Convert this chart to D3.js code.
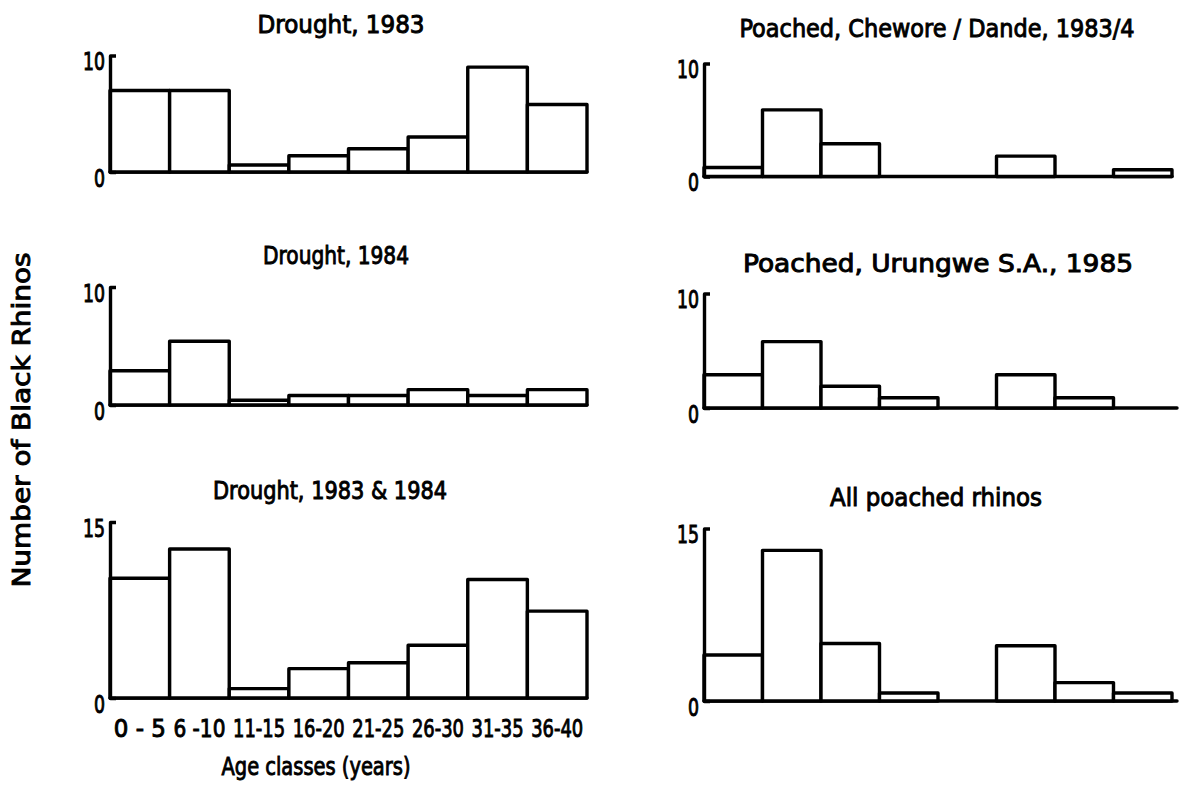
<!doctype html>
<html>
<head>
<meta charset="utf-8" />
<title>Black rhino age classes</title>
<script src="https://cdn.jsdelivr.net/npm/d3@7/dist/d3.min.js"></script>
<style>
	body { margin: 0; background: #fff; }
	svg { display: block; }
	text { font-family: "DejaVu Sans Condensed", "Liberation Sans Narrow", sans-serif; fill: #000; stroke: #000; stroke-width: 0.9; }
	.bar { fill: #fff; stroke: #000; stroke-width: 3.4; stroke-linejoin: round; }
	.base { stroke: #000; stroke-width: 3.4; stroke-linecap: round; }
	.axis path { stroke: #000; stroke-width: 3.4; fill: none; stroke-linejoin: round; }
	.axis line { display: none; }
</style>
</head>
<body>
<div id="app"></div>
<script>
// age classes on the x axis
const ageClasses = ['0 - 5', '6 -10', '11-15', '16-20', '21-25', '26-30', '31-35', '36-40'];

// number of black rhinos per age class
const drought1983 = [7, 7, 0.6, 1.4, 2, 3, 9, 5.8];
const drought1984 = [2.9, 5.4, 0.4, 0.8, 0.8, 1.3, 0.8, 1.3];
const drought1983and1984 = [10.2, 12.7, 0.8, 2.5, 3, 4.5, 10.1, 7.4];
const poachedChewore = [0.8, 5.9, 2.9, 0, 0, 1.8, 0, 0.6];
const poachedUrungwe = [2.9, 5.8, 1.9, 0.9, 0, 2.9, 0.9, 0];
const poachedAll = [4, 13.1, 5, 0.7, 0, 4.8, 1.6, 0.7];

const titles = ['Drought, 1983', 'Drought, 1984', 'Drought, 1983 & 1984',
	'Poached, Chewore / Dande, 1983/4', 'Poached, Urungwe S.A., 1985', 'All poached rhinos'];
const yMax = [10, 10, 15, 10, 10, 15];

const W = 1179, H = 795;
const svg = d3.select('#app').append('svg').attr('width', W).attr('height', H);

// panel frames: left column then right column
const panels = [
	{ values: drought1983, x0: 110, x1: 587, top: 55.5, zero: 172, tx: 341, ty: 33, tw: 167, baseEnd: 587 },
	{ values: drought1984, x0: 110, x1: 587, top: 287, zero: 405, tx: 336, ty: 264, tw: 146, baseEnd: 587 },
	{ values: drought1983and1984, x0: 110, x1: 587, top: 522, zero: 698, tx: 330, ty: 499, tw: 234, baseEnd: 587 },
	{ values: poachedChewore, x0: 704, x1: 1172, top: 63.5, zero: 176.5, tx: 937, ty: 37, tw: 395, baseEnd: 1172 },
	{ values: poachedUrungwe, x0: 704, x1: 1172, top: 293.5, zero: 408, tx: 938, ty: 272, tw: 390, baseEnd: 1177 },
	{ values: poachedAll, x0: 704, x1: 1172, top: 528.5, zero: 701, tx: 936, ty: 506, tw: 212, baseEnd: 1177 }
];

panels.forEach((p, i) => {
	const g = svg.append('g');
	const x = d3.scaleBand().domain(ageClasses).range([p.x0, p.x1]).padding(0);
	const y = d3.scaleLinear().domain([0, yMax[i]]).range([p.zero, p.top]);

	g.append('text')
		.attr('x', p.tx).attr('y', p.ty)
		.attr('text-anchor', 'middle')
		.attr('font-size', 25)
		.attr('textLength', p.tw).attr('lengthAdjust', 'spacingAndGlyphs')
		.text(titles[i]);

	g.append('line').attr('class', 'base')
		.attr('x1', p.x0).attr('x2', p.baseEnd)
		.attr('y1', y(0)).attr('y2', y(0));

	g.selectAll('rect').data(p.values).join('rect')
		.attr('class', 'bar')
		.attr('x', (d, j) => x(ageClasses[j]))
		.attr('width', x.bandwidth())
		.attr('y', d => y(d))
		.attr('height', d => y(0) - y(d));

	const axis = g.append('g').attr('class', 'axis')
		.attr('transform', `translate(${p.x0},0)`)
		.call(d3.axisLeft(y).tickValues([0, yMax[i]]).tickSizeInner(0).tickSizeOuter(-6).tickPadding(5));
	axis.selectAll('text')
		.attr('font-size', 24)
		.attr('font-family', null)
		.attr('fill', '#000')
		.attr('textLength', d => d === 0 ? 11 : 22)
		.attr('lengthAdjust', 'spacingAndGlyphs')
		.attr('dy', '0.6em');
	axis.select('.domain').attr('stroke', '#000');
});

// age class labels under the bottom-left panel
const xb = d3.scaleBand().domain(ageClasses).range([110, 587]).padding(0);
svg.append('g').selectAll('text').data(ageClasses).join('text')
	.attr('x', d => xb(d) + xb.bandwidth() / 2)
	.attr('y', 737)
	.attr('text-anchor', 'middle')
	.attr('font-size', 25)
	.attr('textLength', 52)
	.attr('lengthAdjust', 'spacingAndGlyphs')
	.text(d => d);

svg.append('text')
	.attr('x', 316).attr('y', 775)
	.attr('text-anchor', 'middle')
	.attr('font-size', 25)
	.attr('textLength', 189).attr('lengthAdjust', 'spacingAndGlyphs')
	.text('Age classes (years)');

svg.append('text')
	.attr('transform', 'translate(30,420) rotate(-90)')
	.attr('text-anchor', 'middle')
	.attr('font-size', 25)
	.attr('textLength', 335).attr('lengthAdjust', 'spacingAndGlyphs')
	.text('Number of Black Rhinos');
</script>
</body>
</html>
